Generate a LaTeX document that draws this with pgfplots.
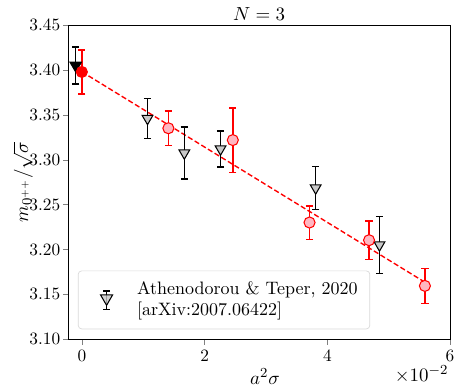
\documentclass[border=0pt]{standalone}
\usepackage{pgfplots}
\pgfplotsset{compat=1.18}
\definecolor{lightpinkfill}{RGB}{255,182,193}
\definecolor{grayfill}{RGB}{200,200,200}

\begin{document}
\begin{tikzpicture}
\begin{axis}[
  name=ax,
  scale only axis,
  width=220.6pt, height=181.6pt,
  xmin=-0.22, xmax=6, ymin=3.10, ymax=3.45,
  xtick={0,2,4,6}, ytick={3.10,3.15,...,3.46},
  tick label style={font=\fontsize{10}{12}\selectfont},
  yticklabel style={inner xsep=1.5pt,
    /pgf/number format/.cd, fixed, fixed zerofill, precision=2},
  label style={font=\fontsize{11}{13}\selectfont},
  xlabel style={at={(axis description cs:0.515,-0.118)}, anchor=center},
  ylabel style={at={(axis description cs:-0.119,0.5)}, anchor=center, inner sep=0.5pt},
  tick align=outside, xtick pos=left, ytick pos=left,
  major tick length=3pt,
  xlabel={$a^2\sigma$},
  ylabel={$m_{0^{++}}/\sqrt{\sigma}$},
  legend style={at={(0.025,0.032)}, anchor=south west,
    draw=gray!30, rounded corners=2pt, fill=white, fill opacity=0.8,
    text opacity=1, inner xsep=5pt, inner ysep=4pt,
    font=\fontsize{10.4}{12.6}\selectfont,
    cells={align=left}},
  legend cell align=left,
]
% fit line
\addplot[red, line width=0.8pt, dash pattern=on 3pt off 1.5pt, forget plot]
  coordinates {(0,3.398) (5.59,3.1636)};

% continuum value, Athenodorou & Teper
\addplot[black, only marks, mark=triangle*, line width=0.8pt, forget plot,
  mark options={rotate=180, fill=black, mark size=3.6pt},
  error bars/.cd, y dir=both, y explicit,
  error bar style={black, line width=0.8pt},
  error mark options={rotate=90, mark size=2.1pt, black, line width=0.8pt}]
  coordinates {(-0.1,3.405) +- (0,0.0208)};

% Athenodorou & Teper data
\addplot[black, only marks, mark=triangle*, line width=0.6pt,
  mark options={rotate=180, fill=grayfill, mark size=3.6pt},
  legend image code/.code={
    \path[draw=none, fill=none] (0cm,-0.3cm) rectangle (0.95cm,0.3cm);
    \draw[black, line width=0.8pt] (0.4cm,-0.2cm) -- (0.4cm,0.18cm);
    \draw[black, line width=0.8pt] (0.33cm,-0.2cm) -- (0.47cm,-0.2cm);
    \draw[black, line width=0.8pt] (0.33cm,0.18cm) -- (0.47cm,0.18cm);
    \draw[black, line width=0.6pt, fill=grayfill]
      plot[mark=triangle*, mark options={rotate=180, mark size=4pt}]
      coordinates {(0.4cm,0.03cm)};
  },
  error bars/.cd, y dir=both, y explicit,
  error bar style={black, line width=0.8pt},
  error mark options={rotate=90, mark size=2.1pt, black, line width=0.8pt}]
  coordinates {
    (1.07,3.3460) +- (0,0.0223)
    (1.67,3.3075) +- (0,0.0290)
    (2.26,3.3120) +- (0,0.0200)
    (3.81,3.2686) +- (0,0.0237)
    (4.85,3.2051) +- (0,0.0316)
  };
\addlegendentry{Athenodorou \& Teper, 2020\\{}[arXiv:2007.06422]}

% this work
\addplot[red, only marks, mark=*, line width=0.6pt, forget plot,
  mark options={fill=lightpinkfill, mark size=3.2pt},
  error bars/.cd, y dir=both, y explicit,
  error bar style={red, line width=0.8pt},
  error mark options={rotate=90, mark size=2.1pt, red, line width=0.8pt}]
  coordinates {
    (1.41,3.3351) +- (0,0.0193)
    (2.46,3.3219) +- (0,0.0358)
    (3.71,3.2301) +- (0,0.0186)
    (4.68,3.2104) +- (0,0.0212)
    (5.59,3.1595) +- (0,0.0193)
  };

% continuum, this work
\addplot[red, only marks, mark=*, line width=0.6pt, forget plot,
  mark options={fill=red, mark size=3.2pt},
  error bars/.cd, y dir=both, y explicit,
  error bar style={red, line width=0.8pt},
  error mark options={rotate=90, mark size=2.1pt, red, line width=0.8pt}]
  coordinates {(0,3.3978) +- (0,0.0245)};
\end{axis}
\node[font=\fontsize{11}{13}\selectfont] at ([yshift=6.6pt]ax.north) {$N=3$};
\node[anchor=east, font=\fontsize{11}{13}\selectfont] at ([shift={(2.5pt,-20.2pt)}]ax.south east) {$\times10^{-2}$};
\pgfresetboundingbox
\path ([shift={(-39.5pt,-30pt)}]ax.south west) rectangle ([shift={(6.9pt,14.5pt)}]ax.north east);
\end{tikzpicture}
\end{document}
